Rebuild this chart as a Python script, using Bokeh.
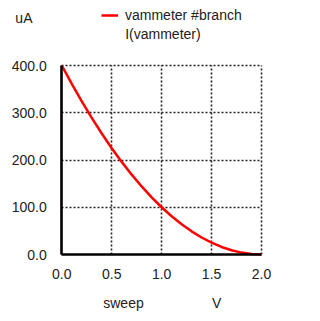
from bokeh.plotting import figure
from bokeh.models import (Range1d, FixedTicker, PrintfTickFormatter, Label,
                          Legend, LegendItem)
from bokeh.embed import file_html
from bokeh.resources import INLINE

# data
sweep_v = [0.0, 0.1, 0.2, 0.3, 0.4, 0.5, 0.6, 0.7, 0.8, 0.9, 1.0,
           1.1, 1.2, 1.3, 1.4, 1.5, 1.6, 1.7, 1.8, 1.9, 2.0]
i_vammeter_ua = [400, 361, 324, 289, 256, 225, 196, 169, 144, 121, 100,
                 81, 64, 49, 36, 25, 16, 9, 4, 1, 0]
x_ticks = [0.0, 0.5, 1.0, 1.5, 2.0]
y_ticks = [0, 100, 200, 300, 400]

FONT = "Liberation Sans"
TXT = "#222222"

W, H = 320, 321
X0_PX, X_SCALE = 61.3, 99.85      # px of x=0, px per volt
Y0_PX, Y_SCALE = 254.0, 0.4725    # px (from top) of y=0, px per uA
xr = Range1d(-X0_PX / X_SCALE, (W - X0_PX) / X_SCALE)
yr = Range1d(-(H - Y0_PX) / Y_SCALE, Y0_PX / Y_SCALE)

p = figure(width=W, height=H, output_backend="svg", toolbar_location=None,
           x_range=xr, y_range=yr, min_border=0)
p.outline_line_color = None
p.background_fill_color = "white"
p.border_fill_color = "white"

xax, yax = p.xaxis[0], p.yaxis[0]
xax.fixed_location = 0
yax.fixed_location = 0
xax.bounds = (x_ticks[0], x_ticks[-1])
yax.bounds = (y_ticks[0], y_ticks[-1])
for ax, ticks in ((xax, x_ticks), (yax, y_ticks)):
    ax.ticker = FixedTicker(ticks=ticks)
    ax.formatter = PrintfTickFormatter(format="%.1f")
    ax.major_tick_line_color = None
    ax.minor_tick_line_color = None
    ax.axis_line_color = "black"
    ax.axis_line_width = 2.6
    ax.major_label_text_font = FONT
    ax.major_label_text_font_size = "14px"
    ax.major_label_text_color = TXT
xax.major_label_standoff = 8
yax.major_label_standoff = 9

p.xgrid[0].ticker = FixedTicker(ticks=x_ticks[1:])
p.xgrid[0].cross_bounds = (y_ticks[0], y_ticks[-1])
p.ygrid[0].ticker = FixedTicker(ticks=y_ticks[1:])
p.ygrid[0].cross_bounds = (x_ticks[0], x_ticks[-1])
for g in (p.xgrid[0], p.ygrid[0]):
    g.grid_line_color = "#222222"
    g.grid_line_width = 1.6
    g.grid_line_dash = "2 2"

r = p.line(sweep_v, i_vammeter_ua, line_color="red", line_width=2.5)

legend = Legend(items=[LegendItem(label="vammeter #branch", renderers=[r])],
                location=(101, 298), padding=0, margin=0,
                border_line_alpha=0, background_fill_alpha=0,
                glyph_width=17, glyph_height=14, label_height=14,
                label_standoff=7, label_text_font=FONT,
                label_text_font_size="14px", label_text_color=TXT)
p.add_layout(legend, "center")

def lab(txt, x, y):
    p.add_layout(Label(x=x, y=y, text=txt, text_font=FONT,
                       text_font_size="14px", text_color=TXT,
                       text_align="left", text_baseline="middle"))

lab("I(vammeter)", 0.635, 467)
lab("uA", -0.465, 501)
lab("sweep", 0.415, -103)
lab("V", 1.505, -103)

open("out.html", "w").write(file_html(p, INLINE))
